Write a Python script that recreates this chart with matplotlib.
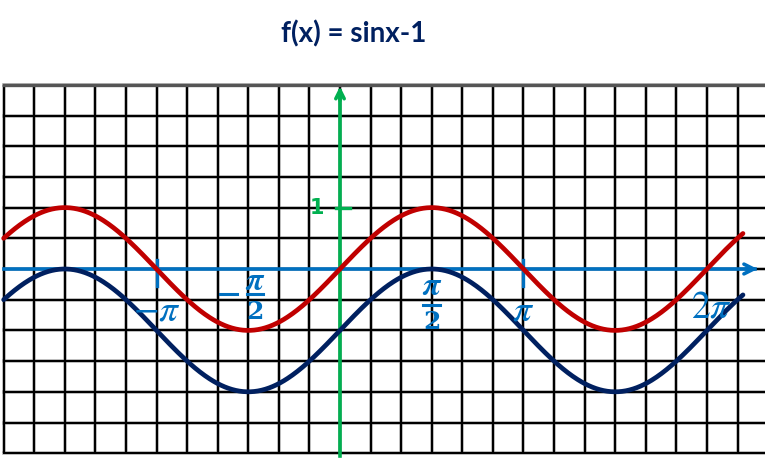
import numpy as np
import matplotlib.pyplot as plt

# ---- data ----
x_start = -11 * np.pi / 6
x_end = 6.9
x = np.linspace(x_start, x_end, 600)
sin_vals = np.sin(x)
f_vals = np.sin(x) - 1

tick_pos = [-np.pi, np.pi]
tick_labels = [r"$-\pi$", r"$\pi$"]
frac_pos = [-np.pi / 2, np.pi / 2]
label_2pi = 2 * np.pi

plt.rcParams["mathtext.fontset"] = "stix"

fig = plt.figure(figsize=(7.65, 4.58), dpi=100)
ax = fig.add_axes([0, 0, 1, 1])
ax.set_xlim(-340 / 58.4, 425 / 58.4)
ax.set_ylim(-189 / 61.4, 269 / 61.4)
ax.axis("off")

# ---- grid ----
gx = x_start + np.arange(0, 26) * np.pi / 6
gy = np.arange(-3, 3.01, 0.5)
for v in gx:
    ax.plot([v, v], [-3, 3], color="#888888", lw=2.8, alpha=0.5, zorder=1, solid_capstyle="butt")
    ax.plot([v, v], [-3, 3], color="#000000", lw=1.5, zorder=2, solid_capstyle="butt")
for h in gy:
    ax.plot([x_start, gx[-1]], [h, h], color="#888888", lw=2.8, alpha=0.5, zorder=1)
    ax.plot([x_start, gx[-1]], [h, h], color="#000000", lw=1.5, zorder=2)
ax.plot([x_start, gx[-1]], [3, 3], color="#555555", lw=2.4, zorder=2)

# ---- axes ----
blue = "#0070C0"
green = "#00B050"
ax.plot([x_start, 7.1], [0, 0], color=blue, lw=2.6, zorder=3)
ax.annotate("", xy=(7.2, 0), xytext=(6.9, 0),
            arrowprops=dict(arrowstyle="->,head_length=0.7,head_width=0.35", color=blue, lw=2.6), zorder=3)
ax.plot([0, 0], [-3.05, 2.9], color=green, lw=2.6, zorder=3)
ax.annotate("", xy=(0, 3.02), xytext=(0, 2.7),
            arrowprops=dict(arrowstyle="->,head_length=0.6,head_width=0.3", color=green, lw=2.6), zorder=3)
ax.plot([-0.06, 0.17], [1, 1], color=green, lw=2.4, zorder=3)
ax.text(-0.4, 1, "1", color=green, fontsize=15, fontweight="bold",
        ha="center", va="center", zorder=4)

# ---- curves ----
ax.plot(x, sin_vals, color="#C00000", lw=3.4, zorder=5, solid_capstyle="round")
ax.plot(x, f_vals, color="#002060", lw=3.4, zorder=5, solid_capstyle="round")

# ---- x labels ----
for p, lab in zip(tick_pos, tick_labels):
    ax.plot([p, p], [0.15, -0.28], color=blue, lw=2.4, zorder=4)
    ax.text(p, -0.68, lab, color=blue, fontsize=27, ha="center", va="center", zorder=6)

# -pi/2
p = frac_pos[0]
ax.text(p + 0.12, -0.2, r"$\boldsymbol{\pi}$", color=blue, fontsize=23, ha="center", va="center", zorder=6)
ax.plot([p - 0.02, p + 0.25], [-0.41, -0.41], color=blue, lw=2.2, zorder=6)
ax.plot([p - 0.48, p - 0.2], [-0.41, -0.41], color=blue, lw=2.2, zorder=6)
ax.text(p + 0.12, -0.7, "2", color=blue, fontsize=18, ha="center", va="center", zorder=6,
        fontweight="bold", family="DejaVu Serif")
# pi/2
p = frac_pos[1]
ax.text(p, -0.28, r"$\boldsymbol{\pi}$", color=blue, fontsize=23, ha="center", va="center", zorder=6)
ax.plot([p - 0.15, p + 0.15], [-0.59, -0.59], color=blue, lw=2.2, zorder=6)
ax.text(p, -0.86, "2", color=blue, fontsize=18, ha="center", va="center", zorder=6,
        fontweight="bold", family="DejaVu Serif")
# 2pi
ax.text(label_2pi + 0.07, -0.62, r"$2\pi$", color=blue, fontsize=27, ha="center", va="center", zorder=6)

# ---- title ----
fig.text(0.462, 0.925, "f(x) = sinx-1", color="#002060", fontsize=20, fontweight="bold",
         family="Lato", ha="center", va="center")

fig.savefig("out.png", dpi=100)
